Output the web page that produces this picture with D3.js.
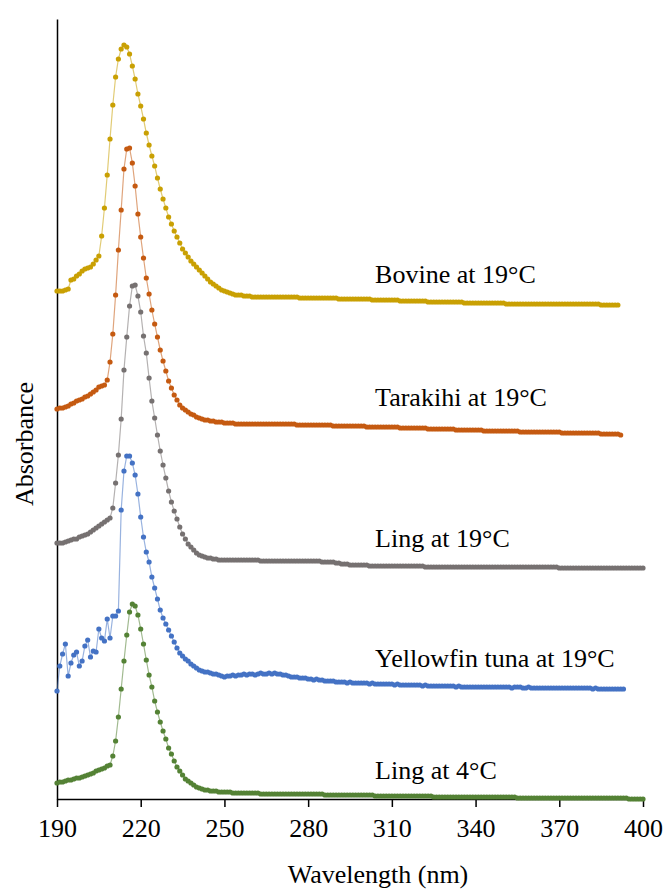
<!DOCTYPE html>
<html>
<head>
<meta charset="utf-8">
<script src="https://cdn.jsdelivr.net/npm/d3@7/dist/d3.min.js"></script>
<style>
  body { margin: 0; background: #fff; }
  svg text { font-family: "Liberation Serif", "Times New Roman", serif; fill: #000; }
</style>
</head>
<body>
<div id="chart"></div>
<script>
// Absorbance spectra (stacked, arbitrary units), one reading per nm starting at 190 nm
const startNm = 190;

const bovine19 = [
  5.08, 5.08, 5.08, 5.09, 5.10, 5.19, 5.20, 5.23, 5.25, 5.28,
  5.30, 5.31, 5.32, 5.35, 5.39, 5.43, 5.63, 5.91, 6.24, 6.60,
  6.94, 7.22, 7.40, 7.50, 7.54, 7.52, 7.45, 7.33, 7.20, 7.05,
  6.93, 6.80, 6.66, 6.54, 6.43, 6.33, 6.21, 6.10, 6.00, 5.91,
  5.82, 5.75, 5.68, 5.62, 5.56, 5.50, 5.46, 5.42, 5.38, 5.35,
  5.32, 5.29, 5.26, 5.23, 5.20, 5.17, 5.15, 5.13, 5.11, 5.09,
  5.08, 5.07, 5.06, 5.05, 5.04, 5.04, 5.04, 5.03, 5.03, 5.03,
  5.02, 5.02, 5.02, 5.02, 5.02, 5.02, 5.02, 5.02, 5.02, 5.02,
  5.02, 5.02, 5.02, 5.02, 5.02, 5.02, 5.02, 5.01, 5.01, 5.01,
  5.01, 5.01, 5.01, 5.01, 5.01, 5.01, 5.01, 5.01, 5.01, 5.01,
  5.01, 5.00, 5.00, 5.00, 5.00, 5.00, 5.00, 5.00, 5.00, 5.00,
  5.00, 5.00, 5.00, 4.99, 4.99, 4.99, 4.99, 4.99, 4.99, 4.99,
  4.99, 4.99, 4.99, 4.98, 4.98, 4.98, 4.98, 4.98, 4.98, 4.98,
  4.98, 4.98, 4.98, 4.97, 4.97, 4.97, 4.97, 4.97, 4.97, 4.97,
  4.97, 4.97, 4.97, 4.97, 4.97, 4.97, 4.96, 4.96, 4.96, 4.96,
  4.96, 4.96, 4.96, 4.96, 4.96, 4.96, 4.96, 4.96, 4.96, 4.96,
  4.96, 4.95, 4.95, 4.95, 4.95, 4.95, 4.95, 4.95, 4.95, 4.95,
  4.95, 4.95, 4.95, 4.95, 4.95, 4.95, 4.95, 4.95, 4.95, 4.95,
  4.95, 4.95, 4.95, 4.95, 4.95, 4.95, 4.95, 4.95, 4.95, 4.95,
  4.95, 4.95, 4.95, 4.95, 4.95, 4.94, 4.94, 4.94, 4.94, 4.94,
  4.94, 4.94
];

const tarakihi19 = [
  3.90, 3.91, 3.91, 3.92, 3.93, 3.95, 3.96, 3.98, 3.99, 4.00,
  4.02, 4.03, 4.05, 4.07, 4.09, 4.12, 4.13, 4.14, 4.19, 4.37,
  4.65, 5.04, 5.49, 5.89, 6.30, 6.50, 6.51, 6.36, 6.13, 5.85,
  5.62, 5.41, 5.21, 5.05, 4.89, 4.75, 4.62, 4.49, 4.38, 4.28,
  4.18, 4.11, 4.04, 3.99, 3.94, 3.91, 3.89, 3.87, 3.85, 3.84,
  3.82, 3.81, 3.80, 3.79, 3.79, 3.78, 3.78, 3.77, 3.77, 3.77,
  3.76, 3.76, 3.76, 3.76, 3.75, 3.75, 3.75, 3.75, 3.75, 3.75,
  3.75, 3.75, 3.75, 3.75, 3.75, 3.75, 3.75, 3.75, 3.75, 3.75,
  3.75, 3.75, 3.75, 3.75, 3.75, 3.75, 3.74, 3.74, 3.74, 3.74,
  3.74, 3.74, 3.74, 3.74, 3.74, 3.74, 3.74, 3.74, 3.74, 3.73,
  3.73, 3.73, 3.73, 3.73, 3.73, 3.73, 3.73, 3.73, 3.73, 3.73,
  3.73, 3.72, 3.72, 3.72, 3.72, 3.72, 3.72, 3.72, 3.72, 3.72,
  3.72, 3.72, 3.72, 3.71, 3.71, 3.71, 3.71, 3.71, 3.71, 3.71,
  3.71, 3.71, 3.71, 3.70, 3.70, 3.70, 3.70, 3.70, 3.70, 3.70,
  3.70, 3.70, 3.70, 3.69, 3.69, 3.69, 3.69, 3.69, 3.69, 3.69,
  3.69, 3.69, 3.69, 3.68, 3.68, 3.68, 3.68, 3.68, 3.68, 3.68,
  3.68, 3.68, 3.68, 3.68, 3.68, 3.68, 3.67, 3.67, 3.67, 3.67,
  3.67, 3.67, 3.67, 3.67, 3.67, 3.67, 3.67, 3.67, 3.67, 3.67,
  3.67, 3.66, 3.66, 3.66, 3.66, 3.66, 3.66, 3.66, 3.66, 3.66,
  3.66, 3.66, 3.66, 3.66, 3.66, 3.65, 3.65, 3.65, 3.65, 3.65,
  3.65, 3.65, 3.64
];

const ling19 = [
  2.56, 2.56, 2.56, 2.57, 2.58, 2.59, 2.60, 2.60, 2.62, 2.63,
  2.64, 2.65, 2.67, 2.69, 2.71, 2.73, 2.75, 2.77, 2.79, 2.81,
  2.91, 3.16, 3.44, 3.80, 4.29, 4.62, 4.93, 5.13, 5.14, 5.03,
  4.87, 4.63, 4.46, 4.21, 3.98, 3.81, 3.64, 3.48, 3.34, 3.21,
  3.08, 2.97, 2.88, 2.80, 2.72, 2.65, 2.60, 2.55, 2.52, 2.49,
  2.46, 2.44, 2.43, 2.42, 2.41, 2.41, 2.40, 2.40, 2.39, 2.39,
  2.39, 2.39, 2.39, 2.39, 2.39, 2.39, 2.39, 2.39, 2.39, 2.39,
  2.39, 2.39, 2.39, 2.38, 2.38, 2.38, 2.38, 2.38, 2.38, 2.38,
  2.38, 2.38, 2.38, 2.38, 2.38, 2.38, 2.38, 2.38, 2.38, 2.38,
  2.38, 2.38, 2.38, 2.38, 2.38, 2.37, 2.37, 2.37, 2.37, 2.37,
  2.36, 2.36, 2.35, 2.35, 2.35, 2.34, 2.34, 2.34, 2.34, 2.34,
  2.34, 2.34, 2.33, 2.33, 2.33, 2.33, 2.33, 2.33, 2.33, 2.33,
  2.33, 2.33, 2.33, 2.33, 2.33, 2.33, 2.33, 2.33, 2.33, 2.33,
  2.33, 2.33, 2.32, 2.32, 2.32, 2.32, 2.32, 2.32, 2.32, 2.32,
  2.32, 2.32, 2.32, 2.32, 2.32, 2.32, 2.32, 2.32, 2.32, 2.32,
  2.32, 2.32, 2.32, 2.32, 2.32, 2.32, 2.32, 2.32, 2.32, 2.32,
  2.32, 2.32, 2.32, 2.32, 2.32, 2.32, 2.32, 2.32, 2.32, 2.32,
  2.32, 2.32, 2.32, 2.32, 2.32, 2.32, 2.32, 2.32, 2.32, 2.32,
  2.31, 2.31, 2.31, 2.31, 2.31, 2.31, 2.31, 2.31, 2.31, 2.31,
  2.31, 2.31, 2.31, 2.31, 2.31, 2.31, 2.31, 2.31, 2.31, 2.31,
  2.31, 2.31, 2.31, 2.31, 2.31, 2.31, 2.31, 2.31, 2.31, 2.31,
  2.31
];

const yellowfin19 = [
  1.08, 1.33, 1.45, 1.55, 1.23, 1.36, 1.44, 1.47, 1.33, 1.38,
  1.53, 1.59, 1.42, 1.48, 1.47, 1.70, 1.61, 1.58, 1.80, 1.61,
  1.83, 1.83, 1.88, 2.89, 3.28, 3.43, 3.43, 3.36, 3.24, 3.05,
  2.82, 2.62, 2.47, 2.37, 2.22, 2.11, 2.00, 1.89, 1.81, 1.75,
  1.69, 1.63, 1.57, 1.51, 1.46, 1.43, 1.40, 1.38, 1.35, 1.33,
  1.31, 1.29, 1.28, 1.27, 1.27, 1.26, 1.25, 1.25, 1.24, 1.23,
  1.22, 1.23, 1.23, 1.24, 1.23, 1.24, 1.24, 1.25, 1.24, 1.25,
  1.25, 1.24, 1.25, 1.26, 1.25, 1.25, 1.26, 1.25, 1.26, 1.25,
  1.25, 1.24, 1.24, 1.23, 1.22, 1.22, 1.22, 1.21, 1.21, 1.21,
  1.20, 1.20, 1.19, 1.20, 1.19, 1.19, 1.18, 1.18, 1.18, 1.18,
  1.17, 1.17, 1.17, 1.17, 1.16, 1.17, 1.16, 1.16, 1.16, 1.16,
  1.16, 1.16, 1.15, 1.16, 1.15, 1.15, 1.15, 1.15, 1.15, 1.15,
  1.15, 1.14, 1.15, 1.14, 1.14, 1.14, 1.14, 1.14, 1.14, 1.14,
  1.14, 1.13, 1.14, 1.13, 1.13, 1.13, 1.13, 1.13, 1.13, 1.13,
  1.13, 1.13, 1.13, 1.12, 1.13, 1.12, 1.12, 1.12, 1.12, 1.12,
  1.12, 1.12, 1.12, 1.12, 1.12, 1.12, 1.12, 1.12, 1.12, 1.12,
  1.12, 1.12, 1.12, 1.11, 1.12, 1.12, 1.12, 1.11, 1.11, 1.12,
  1.11, 1.11, 1.11, 1.11, 1.11, 1.11, 1.11, 1.11, 1.11, 1.11,
  1.11, 1.11, 1.11, 1.11, 1.11, 1.11, 1.11, 1.11, 1.11, 1.11,
  1.11, 1.11, 1.10, 1.11, 1.10, 1.10, 1.10, 1.10, 1.10, 1.10,
  1.10, 1.10, 1.10, 1.10
];

const ling4 = [
  0.16, 0.17, 0.17, 0.18, 0.19, 0.19, 0.20, 0.21, 0.21, 0.22,
  0.23, 0.24, 0.25, 0.26, 0.28, 0.29, 0.30, 0.31, 0.33, 0.34,
  0.43, 0.58, 0.82, 1.10, 1.38, 1.64, 1.87, 1.95, 1.93, 1.84,
  1.70, 1.55, 1.39, 1.24, 1.12, 0.98, 0.87, 0.77, 0.68, 0.60,
  0.51, 0.45, 0.38, 0.32, 0.28, 0.24, 0.20, 0.18, 0.16, 0.14,
  0.12, 0.11, 0.10, 0.09, 0.09, 0.08, 0.08, 0.08, 0.07, 0.07,
  0.07, 0.07, 0.07, 0.06, 0.06, 0.06, 0.06, 0.06, 0.06, 0.06,
  0.06, 0.06, 0.06, 0.05, 0.05, 0.05, 0.05, 0.05, 0.05, 0.05,
  0.05, 0.05, 0.05, 0.05, 0.05, 0.05, 0.05, 0.05, 0.05, 0.05,
  0.05, 0.05, 0.05, 0.05, 0.05, 0.05, 0.04, 0.04, 0.04, 0.04,
  0.04, 0.04, 0.04, 0.04, 0.04, 0.04, 0.04, 0.04, 0.04, 0.04,
  0.04, 0.04, 0.04, 0.04, 0.03, 0.03, 0.03, 0.03, 0.03, 0.03,
  0.03, 0.03, 0.03, 0.03, 0.03, 0.03, 0.03, 0.03, 0.03, 0.03,
  0.03, 0.03, 0.03, 0.03, 0.03, 0.02, 0.02, 0.02, 0.02, 0.02,
  0.02, 0.02, 0.02, 0.02, 0.02, 0.02, 0.02, 0.02, 0.02, 0.02,
  0.02, 0.02, 0.02, 0.02, 0.02, 0.02, 0.02, 0.02, 0.02, 0.02,
  0.02, 0.02, 0.02, 0.02, 0.02, 0.01, 0.01, 0.01, 0.01, 0.01,
  0.01, 0.01, 0.01, 0.01, 0.01, 0.01, 0.01, 0.01, 0.01, 0.01,
  0.01, 0.01, 0.01, 0.01, 0.01, 0.01, 0.01, 0.01, 0.01, 0.01,
  0.01, 0.01, 0.01, 0.01, 0.01, 0.01, 0.01, 0.01, 0.01, 0.01,
  0.01, 0.01, 0.01, 0.01, 0.01, 0.00, 0.00, 0.00, 0.00, 0.00,
  0.00
];

const seriesNames = [
  "Bovine at 19°C",
  "Tarakihi at 19°C",
  "Ling at 19°C",
  "Yellowfin tuna at 19°C",
  "Ling at 4°C",
];
const seriesValues = [bovine19, tarakihi19, ling19, yellowfin19, ling4];
const xTicks = [190, 220, 250, 280, 310, 340, 370, 400];

// label anchors (wavelength, absorbance) for the series names
const labelNm = 304;
const labelAbs = [5.16, 3.93, 2.52, 1.32, 0.2];
const colors = ["#C9A003", "#C55A11", "#767171", "#4472C4", "#548235"];

const width = 665;
const height = 890;
const margin = { top: 19, right: 22, bottom: 91, left: 57 };

const svg = d3
  .select("div#chart")
  .append("svg")
  .attr("width", width)
  .attr("height", height)
  .style("background", "#fff");

const x = d3
  .scaleLinear()
  .domain([190, 400])
  .range([margin.left, width - margin.right]);
const y = d3
  .scaleLinear()
  .domain([0, 7.8])
  .range([height - margin.bottom, margin.top]);

// ejes
const xAxis = d3.axisBottom(x).tickValues(xTicks).tickSize(8).tickSizeOuter(0);
const xAxisGroup = svg
  .append("g")
  .attr("transform", `translate(0, ${height - margin.bottom})`)
  .call(xAxis);
xAxisGroup.selectAll("path, line").attr("stroke", "#000").attr("stroke-width", 1.5);
xAxisGroup
  .selectAll("text")
  .attr("dy", null)
  .attr("y", 38)
  .style("font-size", "26px")
  .style("font-family", '"Liberation Serif", serif');

const yAxisGroup = svg
  .append("g")
  .attr("transform", `translate(${margin.left}, 0)`)
  .call(d3.axisLeft(y).tickValues([]).tickSizeOuter(0));
yAxisGroup.select("path").attr("stroke", "#000").attr("stroke-width", 1.5);

// series
const line = d3
  .line()
  .x((d) => x(d.nm))
  .y((d) => y(d.a));

const series = seriesValues.map((vals, k) => ({
  name: seriesNames[k],
  color: colors[k],
  points: vals.map((a, i) => ({ nm: startNm + i, a: a })),
}));

const seriesGroup = svg
  .selectAll("g.series")
  .data(series)
  .enter()
  .append("g")
  .attr("class", "series");

seriesGroup
  .append("path")
  .attr("d", (d) => line(d.points))
  .attr("fill", "none")
  .attr("stroke", (d) => d.color)
  .attr("stroke-opacity", 0.55)
  .attr("stroke-width", 1.2);

seriesGroup
  .selectAll("circle")
  .data((d) => d.points.map((p) => ({ ...p, color: d.color })))
  .enter()
  .append("circle")
  .attr("cx", (d) => x(d.nm))
  .attr("cy", (d) => y(d.a))
  .attr("r", 2.6)
  .attr("fill", (d) => d.color);

// etiquetas de cada serie
svg
  .selectAll("text.series-label")
  .data(seriesNames)
  .enter()
  .append("text")
  .attr("class", "series-label")
  .attr("x", x(labelNm))
  .attr("y", (d, i) => y(labelAbs[i]))
  .style("font-size", "26px")
  .text((d) => d);

// titulos de ejes
svg
  .append("text")
  .attr("x", 378)
  .attr("y", 883)
  .attr("text-anchor", "middle")
  .style("font-size", "26px")
  .text("Wavelength (nm)");

svg
  .append("text")
  .attr("transform", "translate(33, 444) rotate(-90)")
  .attr("text-anchor", "middle")
  .style("font-size", "26px")
  .text("Absorbance");
</script>
</body>
</html>
